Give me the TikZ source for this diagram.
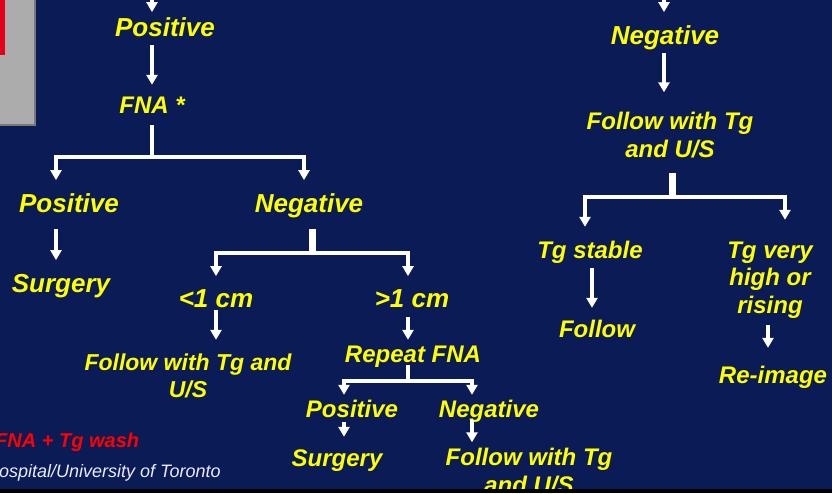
\documentclass[tikz,border=0pt]{standalone}
\usepackage{fontspec}
\setmainfont{Liberation Sans}
\usetikzlibrary{arrows.meta,positioning}
\definecolor{slidebg}{RGB}{10,27,85}
\definecolor{txtyel}{RGB}{255,255,0}
\definecolor{washred}{RGB}{255,0,0}
\tikzset{>={Triangle[width=11pt,length=10pt]}}

\begin{document}
\begin{tikzpicture}[x=1pt,y=-1pt,
    lbl/.style={text=txtyel,font=\bfseries\itshape\fontsize{24}{27.5}\selectfont,
        align=center,inner sep=0pt,text height=17pt,text depth=0pt,anchor=base},
    big/.style={lbl,font=\bfseries\itshape\fontsize{26}{30}\selectfont,text height=18.7pt},
    arr/.style={->,white,line width=4pt,shorten <=8pt,shorten >=12pt},
    bar/.style={white,line width=7pt}]

    \useasboundingbox (0,0) rectangle (832,493);
    \clip (0,0) rectangle (832,493);
    \fill[slidebg] (0,0) rectangle (832,493);
    \fill[gray!65,draw=gray!95!black,line width=1.5pt] (-2,-2) rectangle (35,125);
    \fill[washred!90!blue] (-2,-2) rectangle (5,55);

    % left branch
    \node[big] (pos1) at (165,36) {Positive};
    \node[lbl] (fna) at (152,113) {FNA *};
    \node[big] (posA) at (69,212) {Positive};
    \node[big] (negA) at (309,212) {Negative};
    \node[big] (surgA) at (61,292) {Surgery};
    \node[big] (small) at (216,307) {<1 cm};
    \node[big] (large) at (412,307) {>1 cm};
    \node[lbl,font=\bfseries\itshape\fontsize{23}{27}\selectfont,text height=44pt] (folA) at (188,397) {Follow with Tg and\\U/S};
    \node[lbl] (rep) at (413,362) {Repeat FNA};
    \node[lbl] (posB) at (352,417) {Positive};
    \node[lbl] (negB) at (489,417) {Negative};
    \node[lbl] (surgB) at (337,466) {Surgery};
    \node[lbl,text height=44.5pt] (folB) at (529,493) {Follow with Tg\\and U/S};

    % right branch
    \node[big] (negR) at (665,44) {Negative};
    \node[lbl,text height=44.5pt] (folR) at (670,157) {Follow with Tg\\and U/S};
    \node[lbl] (tgS) at (590,258) {Tg stable};
    \node[lbl] (follow) at (597,337) {Follow};
    \node[lbl,text height=72pt] (tgV) at (770,313) {Tg very\\high or\\rising};
    \node[lbl] (reimg) at (773,383) {Re-image};

    \node[anchor=base west,inner sep=0pt,text=washred,font=\bfseries\itshape\fontsize{20}{24}\selectfont] (wash) at (-5,447) {FNA + Tg wash};
    \node[anchor=base west,inner sep=0pt,text=white!92!blue,font=\itshape\fontsize{18}{22}\selectfont] (credit) at (-1,477) {ospital/University of Toronto};

    \coordinate (inL) at (152,-6);
    \coordinate (inR) at (664,-6);

    \draw[arr,shorten <=0pt,shorten >=5pt] (inL) -- (inL |- pos1.north);
    \draw[arr,shorten <=9pt,shorten >=11pt] (pos1.south -| fna.north) -- (fna.north);
    \draw[arr,shorten >=13pt,shorten <=12pt] (fna.south) -- ++(0,44) -| ([xshift=-13pt]posA.north);
    \draw[arr,shorten >=13pt,shorten <=12pt] (fna.south) -- ++(0,44) -| ([xshift=-5pt]negA.north);
    \draw[arr,shorten <=17pt,shorten >=13pt] ([xshift=-13pt]posA.south) -- ([xshift=-13pt]posA.south |- surgA.north);

    \draw[arr,shorten <=17pt,shorten >=12pt] ([xshift=3pt]negA.south) -- ++(0,41) -| (small.north);
    \draw[arr,shorten <=17pt,shorten >=12pt] ([xshift=3pt]negA.south) -- ++(0,41) -| ([xshift=-4pt]large.north);
    \draw[bar] ([xshift=3pt]negA.south) ++(0,17) -- ++(0,24);
    \draw[arr,shorten <=3pt,shorten >=13pt] (small.south) -- (small.south |- folA.north);
    \draw[arr,shorten <=10pt,shorten >=5pt] ([xshift=-4pt]large.south) -- ([xshift=-4pt]large.south |- rep.north);

    \draw[arr,shorten <=3pt,shorten >=5pt] ([xshift=-5pt]rep.south) -- ++(0,19) -| ([xshift=-8pt]posB.north);
    \draw[arr,shorten <=3pt,shorten >=5pt] ([xshift=-5pt]rep.south) -- ++(0,19) -| ([xshift=-17pt]negB.north);
    \draw[arr,shorten <=5pt,shorten >=12pt] ([xshift=-8pt]posB.south) -- ([xshift=-8pt]posB.south |- surgB.north);
    \draw[arr,shorten <=3pt,shorten >=6pt] ([xshift=-17pt]negB.south) -- ([xshift=-17pt]negB.south |- folB.north);

    \draw[arr,shorten <=0pt,shorten >=13pt] (inR) -- (inR |- negR.north);
    \draw[arr,shorten <=9pt,shorten >=20pt] ([xshift=-1pt]negR.south) -- ([xshift=-1pt]negR.south |- folR.north);
    \draw[arr,shorten <=16pt,shorten >=14pt] ([xshift=2pt]folR.south) -- ++(0,40) -| ([xshift=-5pt]tgS.north);
    \draw[arr,shorten <=16pt,shorten >=21pt] ([xshift=2pt]folR.south) -- ++(0,40) -| ([xshift=15pt]tgV.north);
    \draw[bar] ([xshift=2pt]folR.south) ++(0,16) -- ++(0,24);
    \draw[arr,shorten <=10pt,shorten >=12pt] ([xshift=2pt]tgS.south) -- ([xshift=2pt]tgS.south |- follow.north);
    \draw[arr,shorten <=12pt,shorten >=18pt] ([xshift=-2pt]tgV.south) -- ([xshift=-2pt]tgV.south |- reimg.north);

    \fill[black] (0,489) rectangle (832,493);
\end{tikzpicture}
\end{document}
